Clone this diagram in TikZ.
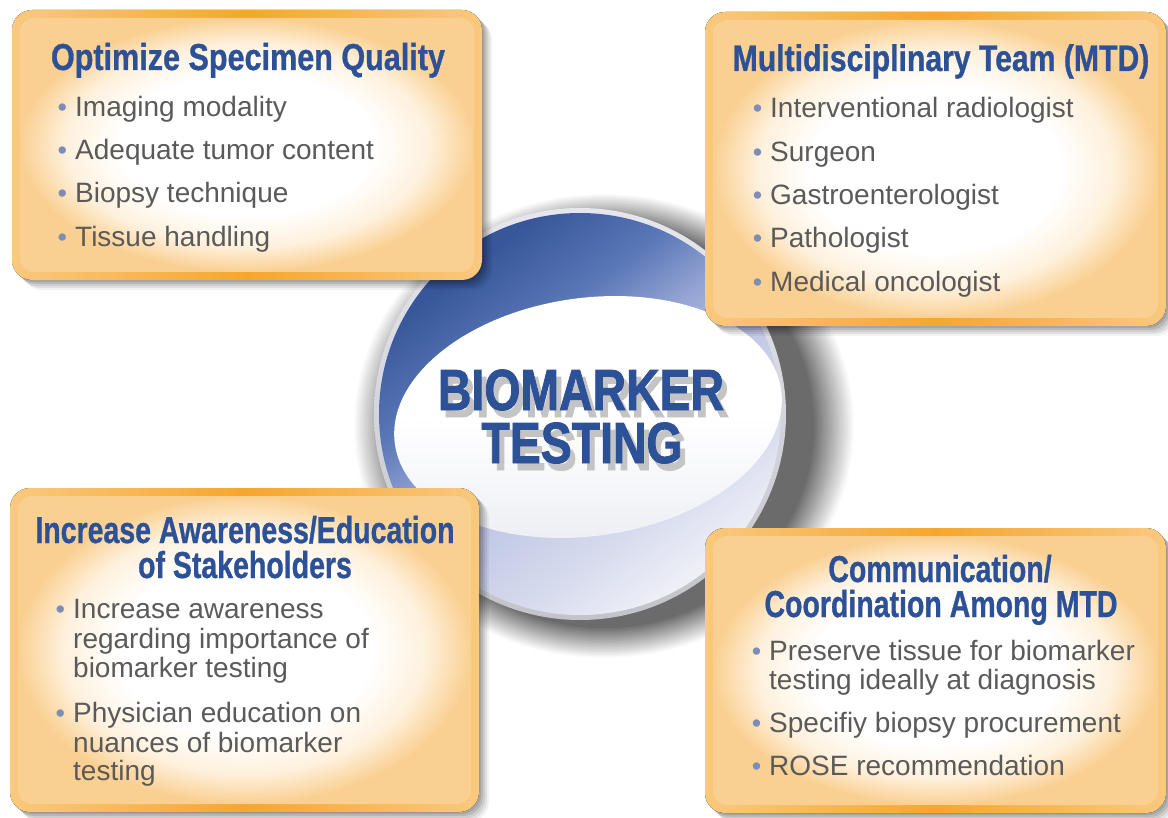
\documentclass[tikz,border=0pt]{standalone}
\usepackage{graphicx}
\usepackage{fontspec}
\setmainfont{Liberation Sans}
\newfontfamily\headfont[FakeStretch=0.76,FakeBold=0.8]{Liberation Sans}
\newfontfamily\headfontw[FakeStretch=0.815,FakeBold=0.8]{Liberation Sans}
\newfontfamily\titlefont[FakeStretch=0.80,FakeBold=1.4]{Liberation Sans}

\definecolor{headblue}{HTML}{2C5196}
\definecolor{bodygray}{HTML}{5C5A59}
\definecolor{bulletc}{HTML}{7D8DB8}
\definecolor{bandc}{HTML}{F9C97F}
\definecolor{bandhi}{HTML}{F6A62D}
\definecolor{boxmid}{HTML}{FEF1DD}
\definecolor{boxedge}{HTML}{FAD092}
\definecolor{titleshadow}{HTML}{C4C4C4}
\definecolor{rimtop}{HTML}{E6E7EE}
\definecolor{rimbot}{HTML}{C3C4CA}
\definecolor{ellbot}{HTML}{ECEEF4}
\definecolor{dka}{HTML}{37579A}
\definecolor{dkb}{HTML}{5A77B7}
\definecolor{dkc}{HTML}{93A3D3}
\definecolor{dkd}{HTML}{C2C9E6}
\definecolor{dke}{HTML}{D8DCEE}
\definecolor{dkf}{HTML}{F0F1F7}

\pgfdeclareradialshading{boxglow}{\pgfpoint{0bp}{0bp}}{color(0bp)=(white); color(14bp)=(white); color(20bp)=(boxmid); color(25bp)=(boxedge); color(50bp)=(boxedge)}
\pgfdeclareverticalshading{diskshade}{100bp}{color(0bp)=(dkf); color(25bp)=(dkf); color(34bp)=(dke); color(45bp)=(dkd); color(54bp)=(dkc); color(62bp)=(dkb); color(73bp)=(dka); color(100bp)=(dka)}

\newcommand\bul{\llap{\textcolor{bulletc}{\fontsize{27}{27}\selectfont\textbullet}\hspace{8pt}}}
\newcommand\shadowed[1]{\rlap{\hspace{5pt}\raisebox{-7pt}{\textcolor{titleshadow}{#1}}}#1}

\newcommand\mybox[4]{%
  \foreach \s/\op in {10/0.05,8/0.07,6/0.08,4/0.1,2/0.1}{%
    \fill[black,opacity=\op,rounded corners=20pt] (#1+\s,#2+\s) rectangle (#3+\s,#4+\s);}
  \fill[rounded corners=20pt,left color=bandc,right color=bandc,middle color=bandhi] (#1,#2) rectangle (#3,#4);
  \shade[rounded corners=14pt,shading=boxglow] (#1+8,#2+8) rectangle (#3-8,#4-8);
}

\begin{document}
\begin{tikzpicture}[x=1pt,y=-1pt,
  headtxt/.style={font=\headfont\bfseries\fontsize{37.5}{40}\selectfont, text=headblue, anchor=base, inner sep=0pt},
  headtxtw/.style={font=\headfontw\bfseries\fontsize{37.5}{40}\selectfont, text=headblue, anchor=base, inner sep=0pt},
  bodytxt/.style={font=\fontsize{28}{30}\selectfont, text=bodygray, anchor=base west, inner sep=0pt},
  titletxt/.style={font=\titlefont\bfseries\fontsize{58}{60}\selectfont, text=headblue, anchor=base, inner sep=0pt}]

\useasboundingbox (0,0) rectangle (1168,818);
\fill[white] (0,0) rectangle (1168,818);

% soft shadow of the central disk (outer rings light, inner rings dark)
\foreach \j in {20,19,...,0}{%
  \pgfmathsetmacro\rx{210+2*\j}%
  \pgfmathsetmacro\ry{202+1.5*\j}%
  \pgfmathsetmacro\cc{58-2.8*\j}%
  \fill[black!\cc] (604,426) ellipse (\rx pt and \ry pt);}

% central disk
\coordinate (C) at (580,414);
\shade[top color=rimtop,bottom color=rimbot] (C) circle (206pt);
\shade[shading=diskshade,shading angle=37] (C) circle (201pt);
\shade[top color=white,bottom color=ellbot,middle color=white,rotate around={8:(588,417)}] (588,417) ellipse (195pt and 119pt);

\node[titletxt] (bio) at (581,410) {\shadowed{BIOMARKER}};
\node[titletxt] (test) at (582,463) {\shadowed{TESTING}};

% boxes
\mybox{12}{10}{482}{280}
\mybox{705}{12}{1166}{326}
\mybox{10}{488}{479}{812}
\mybox{705}{528}{1166}{813}

% top-left
\node[headtxtw] (h1) at (248,70) {Optimize Specimen Quality};
\node[bodytxt] (a1) at (75,117) {\bul Imaging modality};
\node[bodytxt] (a2) at (75,160) {\bul Adequate tumor content};
\node[bodytxt] (a3) at (75,203) {\bul Biopsy technique};
\node[bodytxt] (a4) at (75,247) {\bul Tissue handling};

% top-right
\node[headtxtw,font=\headfontw\bfseries\fontsize{37}{40}\selectfont] (h2) at (941,71) {Multidisciplinary Team (MTD)};
\node[bodytxt] (b1) at (770,118) {\bul Interventional radiologist};
\node[bodytxt] (b2) at (770,162) {\bul Surgeon};
\node[bodytxt] (b3) at (770,205) {\bul Gastroenterologist};
\node[bodytxt] (b4) at (770,248) {\bul Pathologist};
\node[bodytxt] (b5) at (770,292) {\bul Medical oncologist};

% bottom-left
\node[headtxt] (h3a) at (245,543) {Increase Awareness/Education};
\node[headtxt] (h3b) at (245,578) {of Stakeholders};
\node[bodytxt] (c1) at (73,618) {\bul Increase awareness};
\node[bodytxt] (c2) at (73,648) {regarding importance of};
\node[bodytxt] (c3) at (73,677) {biomarker testing};
\node[bodytxt] (c4) at (73,722) {\bul Physician education on};
\node[bodytxt] (c5) at (73,752) {nuances of biomarker};
\node[bodytxt] (c6) at (73,780) {testing};

% bottom-right
\node[headtxt] (h4a) at (940,582) {Communication/};
\node[headtxt] (h4b) at (941,617) {Coordination Among MTD};
\node[bodytxt] (d1) at (769,660) {\bul Preserve tissue for biomarker};
\node[bodytxt] (d2) at (769,689) {testing ideally at diagnosis};
\node[bodytxt] (d3) at (769,732) {\bul Specifiy biopsy procurement};
\node[bodytxt] (d4) at (769,775) {\bul ROSE recommendation};
\end{tikzpicture}
\end{document}
